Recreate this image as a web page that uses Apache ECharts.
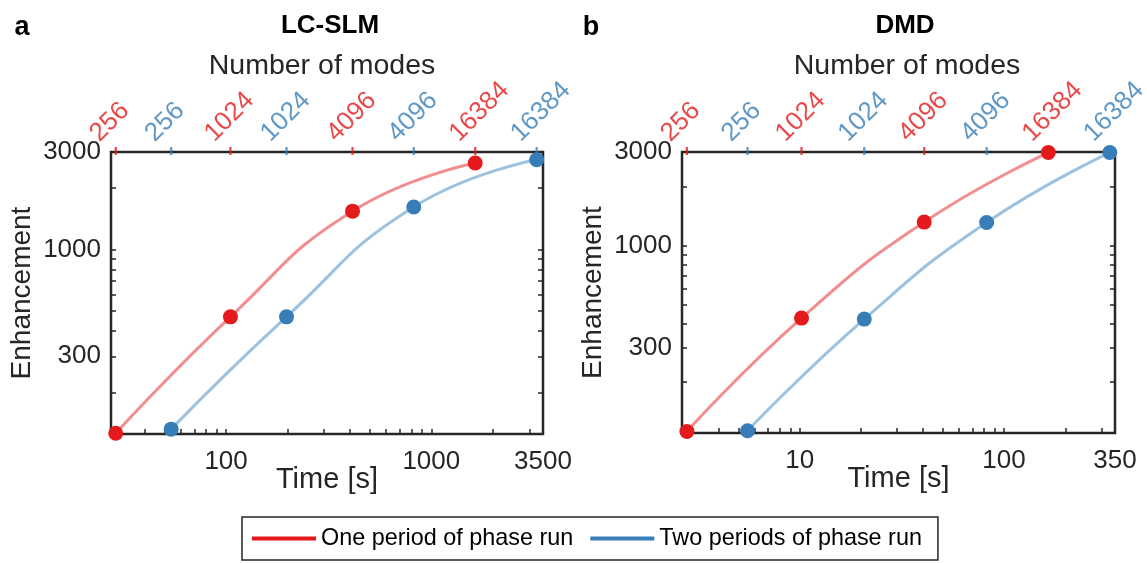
<!DOCTYPE html>
<html><head><meta charset="utf-8">
<script src="https://cdn.jsdelivr.net/npm/echarts@6/dist/echarts.min.js"></script>
<style>html,body{margin:0;padding:0;background:#fff}#c{width:1147px;height:563px}</style>
</head><body><div id="c"></div>
<script>
// ---- data ----
const modes = [256, 1024, 4096, 16384];
const lcTimeOne = [29, 105, 413, 1636];
const lcEnhOne = [126, 468, 1540, 2650];
const lcTimeTwo = [54, 197, 821, 3260];
const lcEnhTwo = [132, 468, 1615, 2750];
const dmdTimeOne = [2.8, 10.2, 40.7, 165];
const dmdEnhOne = [112, 425, 1315, 2980];
const dmdTimeTwo = [5.55, 20.7, 82.3, 330];
const dmdEnhTwo = [113, 420, 1310, 2980];
const lcXLabels = [100, 1000, 3500];
const lcXTicks = [30, 40, 50, 60, 70, 80, 90, 100, 200, 300, 400, 500, 600, 700, 800, 900, 1000, 2000, 3000];
const dmdXLabels = [10, 100, 350];
const dmdXTicks = [3, 4, 5, 6, 7, 8, 9, 10, 20, 30, 40, 50, 60, 70, 80, 90, 100, 200, 300];
const yLabels = [300, 1000, 3000];
const yTicks = [200, 300, 400, 500, 600, 700, 800, 900, 1000, 2000, 3000];
const seriesNames = ['One period of phase run', 'Two periods of phase run'];

const RED = '#E41A1C', BLUE = '#377EB8', RED_L = '#F28E8F', BLUE_L = '#9DC2DF';
const INK = '#262626';
const FONT = '"Liberation Sans", Arial, Helvetica, sans-serif';

const lcRange = { xmin: 27.5, xmax: 3500, ymin: 125, ymax: 3000 };
const dmdRange = { xmin: 2.65, xmax: 350, ymin: 110, ymax: 3000 };

function zip(a, b) { return a.map((v, i) => [v, b[i]]); }

function xAxisFor(g, r, ticks, labels) {
  return {
    type: 'log', logBase: 10, gridIndex: g, position: 'bottom', min: r.xmin, max: r.xmax,
    axisLine: { show: false }, splitLine: { show: false },
    axisTick: { show: true, inside: true, length: 5, customValues: ticks, lineStyle: { color: INK, width: 1.5 } },
    axisLabel: { show: true, customValues: labels, margin: 15, fontSize: 26, color: INK, fontFamily: FONT,
      formatter: v => String(Math.round(v)) },
    name: 'Time [s]', nameLocation: 'middle', nameGap: 31, nameMoveOverlap: false,
    nameTextStyle: { fontSize: 29, color: INK, fontFamily: FONT }
  };
}
function yAxesFor(g, r) {
  return [{
    type: 'log', logBase: 10, gridIndex: g, position: 'left', min: r.ymin, max: r.ymax,
    axisLine: { show: false }, splitLine: { show: false },
    axisTick: { show: true, inside: true, length: 5, customValues: yTicks, lineStyle: { color: INK, width: 1.5 } },
    axisLabel: { show: true, customValues: yLabels, margin: 10, fontSize: 26, color: INK, fontFamily: FONT,
      padding: [4, 0, 0, 0], formatter: v => String(Math.round(v)) },
    name: 'Enhancement', nameLocation: 'middle', nameGap: 75, nameRotate: 90, nameMoveOverlap: false,
    nameTextStyle: { fontSize: 28, color: INK, fontFamily: FONT }
  }, {
    type: 'log', logBase: 10, gridIndex: g, position: 'right', min: r.ymin, max: r.ymax,
    axisLine: { show: false }, splitLine: { show: false },
    axisTick: { show: true, inside: true, length: 5, customValues: yTicks, lineStyle: { color: INK, width: 1.5 } },
    axisLabel: { show: false }
  }];
}
function curve(name, xi, yi, t, e, color, light) {
  return {
    name, type: 'line', xAxisIndex: xi, yAxisIndex: yi, data: zip(t, e), smooth: true,
    symbol: 'circle', symbolSize: 15, showSymbol: true, clip: false, z: 3,
    lineStyle: { color: light, width: 3 }, itemStyle: { color }, emphasis: { disabled: true }
  };
}
function modeTicks(id, xi, yi, t, ymax, color) {
  return {
    id, type: 'scatter', xAxisIndex: xi, yAxisIndex: yi, silent: true, clip: false, z: 4,
    data: t.map((v, i) => [v, ymax, modes[i]]),
    symbol: 'rect', symbolSize: [2.2, 8], symbolOffset: [0, -1],
    itemStyle: { color }, emphasis: { disabled: true },
    label: { show: true, position: 'inside', formatter: p => String(p.value[2]), rotate: 45,
      align: 'left', verticalAlign: 'middle', offset: [-5.5, -24.7],
      fontSize: 26, color, fontFamily: FONT }
  };
}

const chart = echarts.init(document.getElementById('c'), null, { renderer: 'canvas' });
chart.setOption({
  backgroundColor: '#fff',
  animation: false,
  grid: [
    { left: 111, top: 152, width: 432, height: 282, show: true, borderColor: INK, borderWidth: 2.5, backgroundColor: 'transparent' },
    { left: 682, top: 152, width: 433, height: 281, show: true, borderColor: INK, borderWidth: 2.5, backgroundColor: 'transparent' }
  ],
  xAxis: [xAxisFor(0, lcRange, lcXTicks, lcXLabels), xAxisFor(1, dmdRange, dmdXTicks, dmdXLabels)],
  yAxis: [...yAxesFor(0, lcRange), ...yAxesFor(1, dmdRange)],
  legend: {
    left: 242, top: 517, orient: 'horizontal',
    padding: [10, 16, 10, 10], itemGap: 17, itemWidth: 64, itemHeight: 4,
    borderColor: INK, borderWidth: 1.5, icon: 'rect',
    textStyle: { fontSize: 23.4, color: '#000', fontFamily: FONT },
    data: [{ name: seriesNames[0], itemStyle: { color: RED } }, { name: seriesNames[1], itemStyle: { color: BLUE } }],
    selectedMode: false
  },
  graphic: [
    { type: 'text', x: 22, y: 28, style: { text: 'a', font: 'bold 27px ' + FONT, fill: '#000', textAlign: 'center', textVerticalAlign: 'middle' } },
    { type: 'text', x: 591, y: 28, style: { text: 'b', font: 'bold 27px ' + FONT, fill: '#000', textAlign: 'center', textVerticalAlign: 'middle' } },
    { type: 'text', x: 330, y: 26, style: { text: 'LC-SLM', font: 'bold 26px ' + FONT, fill: '#000', textAlign: 'center', textVerticalAlign: 'middle' } },
    { type: 'text', x: 905, y: 26, style: { text: 'DMD', font: 'bold 26px ' + FONT, fill: '#000', textAlign: 'center', textVerticalAlign: 'middle' } },
    { type: 'text', x: 322, y: 66, style: { text: 'Number of modes', font: '28.5px ' + FONT, fill: INK, textAlign: 'center', textVerticalAlign: 'middle' } },
    { type: 'text', x: 907, y: 66, style: { text: 'Number of modes', font: '28.5px ' + FONT, fill: INK, textAlign: 'center', textVerticalAlign: 'middle' } }
  ],
  series: [
    curve(seriesNames[0], 0, 0, lcTimeOne, lcEnhOne, RED, RED_L),
    curve(seriesNames[1], 0, 0, lcTimeTwo, lcEnhTwo, BLUE, BLUE_L),
    curve(seriesNames[0], 1, 2, dmdTimeOne, dmdEnhOne, RED, RED_L),
    curve(seriesNames[1], 1, 2, dmdTimeTwo, dmdEnhTwo, BLUE, BLUE_L),
    modeTicks('mA1', 0, 0, lcTimeOne, lcRange.ymax, RED),
    modeTicks('mA2', 0, 0, lcTimeTwo, lcRange.ymax, BLUE),
    modeTicks('mB1', 1, 2, dmdTimeOne, dmdRange.ymax, RED),
    modeTicks('mB2', 1, 2, dmdTimeTwo, dmdRange.ymax, BLUE)
  ]
});
</script></body></html>
